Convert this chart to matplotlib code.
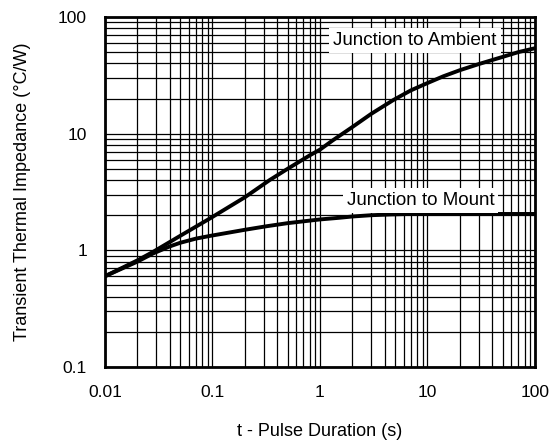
import matplotlib
matplotlib.use("Agg")
import matplotlib.pyplot as plt
from matplotlib.ticker import LogLocator, FixedLocator, FixedFormatter, NullFormatter

t_ambient = [0.01, 0.015, 0.02, 0.028, 0.05, 0.095, 0.2, 0.34, 0.5, 0.81, 1.0, 1.3,
             2.0, 3.0, 4.8, 7.0, 9.85, 14, 20, 30, 50, 70, 100]
z_ambient = [0.6, 0.72, 0.82, 0.97, 1.33, 1.88, 2.85, 4.0, 5.0, 6.55, 7.3, 8.7,
             11.4, 14.8, 19.4, 23.5, 27.0, 31.0, 35.0, 39.5, 45.5, 50.0, 54.0]

t_mount = [0.01, 0.015, 0.02, 0.028, 0.04, 0.05, 0.07, 0.095, 0.2, 0.32, 0.5, 0.81,
           1.0, 1.5, 2.0, 3.0, 4.5, 6.9, 10, 30, 100]
z_mount = [0.6, 0.71, 0.8, 0.94, 1.08, 1.16, 1.26, 1.33, 1.5, 1.61, 1.71, 1.8,
           1.84, 1.9, 1.95, 2.0, 2.03, 2.05, 2.05, 2.05, 2.05]

x_ticks = [0.01, 0.1, 1, 10, 100]
x_tick_labels = ["0.01", "0.1", "1", "10", "100"]
y_ticks = [0.1, 1, 10, 100]
y_tick_labels = ["0.1", "1", "10", "100"]

plt.rcParams["font.family"] = ["Liberation Sans", "DejaVu Sans"]

fig = plt.figure(figsize=(5.58, 4.43), dpi=100)
ax = fig.add_axes([105 / 558, 1 - 367 / 443, 430 / 558, 350 / 443])

ax.set_xscale("log")
ax.set_yscale("log")
ax.set_xlim(0.01, 100)
ax.set_ylim(0.1, 100)

ax.xaxis.set_major_locator(FixedLocator(x_ticks))
ax.xaxis.set_major_formatter(FixedFormatter(x_tick_labels))
ax.yaxis.set_major_locator(FixedLocator(y_ticks))
ax.yaxis.set_major_formatter(FixedFormatter(y_tick_labels))
ax.xaxis.set_minor_locator(LogLocator(base=10, subs=range(2, 10), numticks=20))
ax.yaxis.set_minor_locator(LogLocator(base=10, subs=range(2, 10), numticks=20))
ax.xaxis.set_minor_formatter(NullFormatter())
ax.yaxis.set_minor_formatter(NullFormatter())

ax.grid(True, which="both", color="black", linewidth=0.9)
ax.set_axisbelow(True)
ax.tick_params(which="both", length=0, labelsize=12.5)
ax.tick_params(axis="x", pad=13)
ax.tick_params(axis="y", pad=13)
for s in ax.spines.values():
    s.set_linewidth(2)

ax.plot(t_ambient, z_ambient, color="black", linewidth=2.8, zorder=3)
ax.plot(t_mount, z_mount, color="black", linewidth=2.8, zorder=3)

box = dict(facecolor="white", edgecolor="none", pad=3)
ax.text(1.33, 57.4, "Junction to Ambient", fontsize=13.5, ha="left", va="baseline",
        bbox=box, zorder=4)
ax.text(1.77, 2.44, "Junction to Mount", fontsize=13.5, ha="left", va="baseline",
        bbox=box, zorder=4)

ax.set_xlabel("t - Pulse Duration (s)", fontsize=13, va="center")
ax.set_ylabel("Transient Thermal Impedance (°C/W)", fontsize=13, va="center")
ax.xaxis.set_label_coords(0.5, (367 - 431) / 350)
ax.yaxis.set_label_coords((22 - 105) / 430, 0.5)

fig.savefig("out.png", dpi=100)
